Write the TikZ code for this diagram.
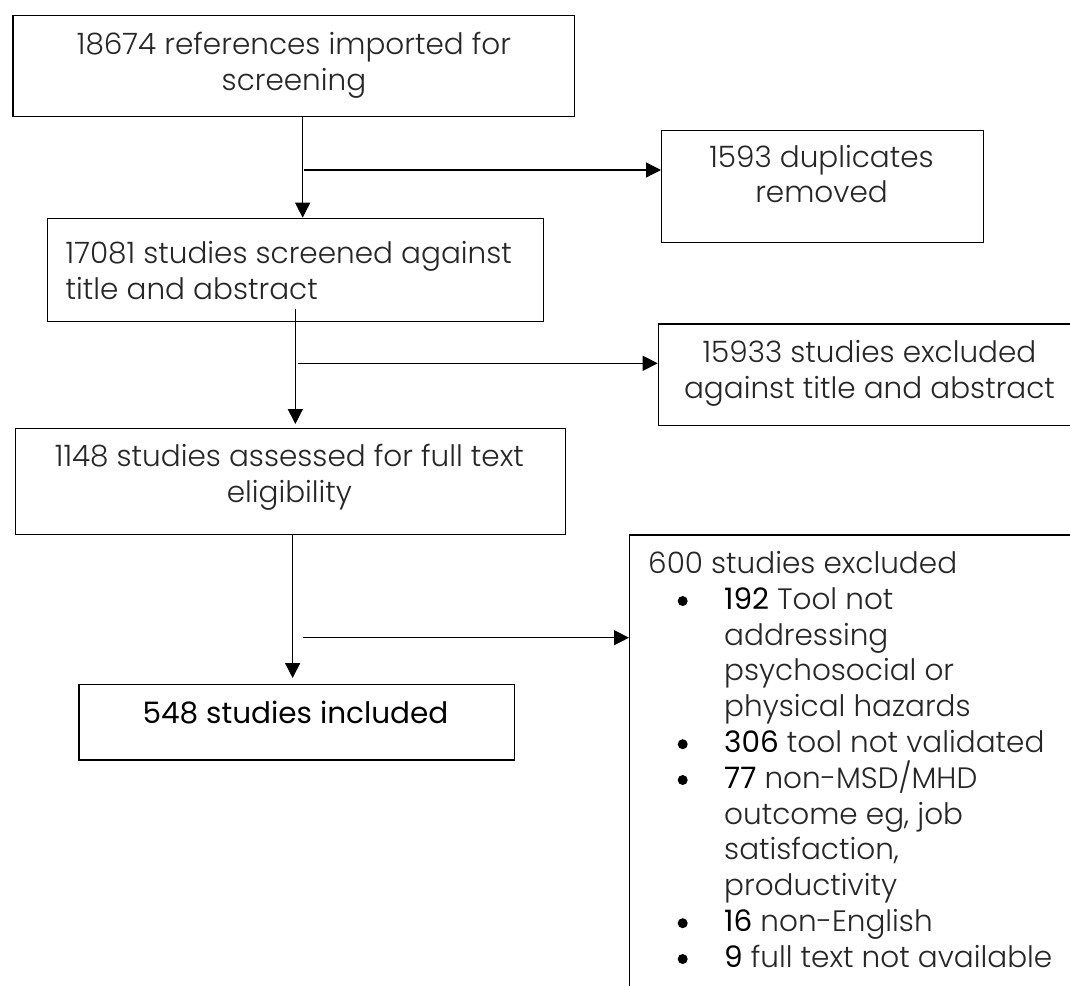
\documentclass[tikz,border=0pt]{standalone}
\usepackage{fontspec}
\IfFontExistsTF{Poppins Light}{\setmainfont{Poppins Light}}{\setmainfont{Poppins}}
\newfontfamily\numfont{Poppins}
\usetikzlibrary{arrows.meta}
\newcommand\topfix{\rule{0pt}{24pt}}
\newcommand\bul{\makebox[76pt][l]{\hspace*{29.5pt}\tikz[baseline=-8.3pt]\fill[black] (0pt,0pt) circle[radius=5pt];}}
\begin{document}
\begin{tikzpicture}[x=1pt,y=-1pt,
  box/.style={draw, line width=1.3pt, inner sep=0pt, anchor=north west},
  txt/.style={inner sep=0pt, align=center, anchor=north, text=black!85,
    font=\fontsize{29.5}{35.5}\selectfont},
  arr/.style={line width=1.3pt, -{Triangle[length=15pt,width=15pt]}}]
\useasboundingbox (0,0) rectangle (1070,985);
\fill[white] (0,0) rectangle (1070,985);
% boxes
\node[box, minimum width=561.7pt, minimum height=100.7pt] (b1) at (12.3,15) {};
\node[box, minimum width=322pt, minimum height=112pt] (dup) at (661,130) {};
\node[box, minimum width=496pt, minimum height=103.3pt] (b2) at (46.7,217.7) {};
\node[box, minimum width=422.3pt, minimum height=101.7pt] (ex1) at (657.7,323.3) {};
\node[box, minimum width=549.7pt, minimum height=106pt] (b3) at (15,428) {};
\node[box, minimum width=435.7pt, minimum height=75.3pt] (b4) at (78.3,684) {};
\node[box, minimum width=500pt, minimum height=500pt] (ex2) at (629,534.3) {};
% texts
\node[txt] (b1t) at (294,30.5) {\topfix 18674 references imported for\\screening};
\node[txt] (dupt) at (821.5,143) {\topfix 1593 duplicates\\removed};
\node[txt, anchor=north west, align=left] (b2t) at (65.5,239.3) {\topfix 17081 studies screened against\\title and abstract};
\node[txt] (ex1t) at (869.5,338.7) {\topfix 15933 studies excluded\\against title and abstract};
\node[txt] (b3t) at (289.4,442.7) {\topfix 1148 studies assessed for full text\\eligibility};
\node[txt, text=black] (b4t) at (295.5,699.3) {\topfix\numfont 548 studies included};
\node[txt, anchor=north west, align=left, font=\fontsize{29.5}{35.8}\selectfont] (ex2t) at (648,549.3) {\topfix 600 studies excluded\\
\bul{\numfont\color{black}192} Tool not\\
\hspace*{76pt}addressing\\
\hspace*{76pt}psychosocial or\\
\hspace*{76pt}physical hazards\\
\bul{\numfont\color{black}306} tool not validated\\
\bul{\numfont\color{black}77} non-MSD/MHD\\
\hspace*{76pt}outcome eg, job\\
\hspace*{76pt}satisfaction,\\
\hspace*{76pt}productivity\\
\bul{\numfont\color{black}16} non-English\\
\bul{\numfont\color{black}9} full text not available};
% connectors
\coordinate (j1) at (304,170);
\coordinate (j2) at (297.7,363.3);
\coordinate (j3) at (303,637.7);
\draw[arr] ([xshift=8.85pt]b1.south) -- ([xshift=8.85pt]b1.south |- b2.north);
\draw[arr] (j1) -- (j1 -| dup.west);
\draw[arr, shorten >=4pt] ([yshift=13pt]b2.south) -- (b2.south |- b3.north);
\draw[arr] (j2) -- (j2 -| ex1.west);
\draw[arr, shorten >=6pt] ([xshift=2.15pt]b3.south) -- ([xshift=2.15pt]b3.south |- b4.north);
\draw[arr] (j3) -- (j3 -| ex2.west);
\end{tikzpicture}
\end{document}
